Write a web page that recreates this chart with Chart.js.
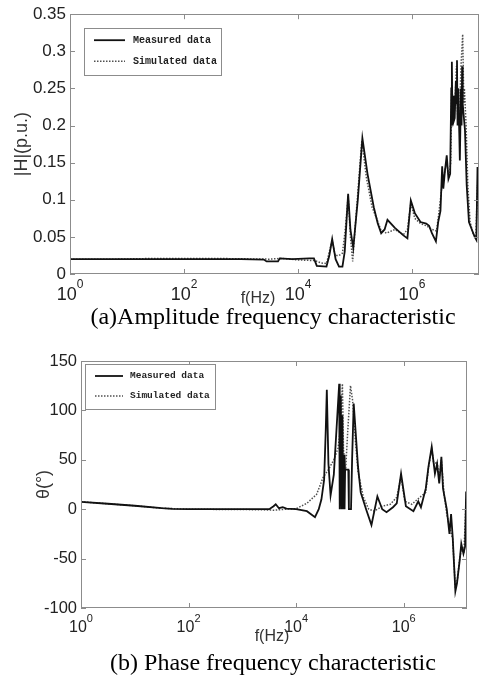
<!DOCTYPE html>
<html><head><meta charset="utf-8">
<script src="https://cdn.jsdelivr.net/npm/chart.js@4/dist/chart.umd.min.js"></script>
<style>
html,body{margin:0;padding:0;background:#fff;width:481px;height:680px;overflow:hidden;position:relative}
canvas{position:absolute;left:0}
#c1{top:0}
#c2{top:340px}
.cap{position:absolute;left:0;width:546px;text-align:center;font-family:"Liberation Serif","Times New Roman",serif;font-size:24px;line-height:26px;color:#000;white-space:nowrap}
</style></head>
<body>
<canvas id="c1" width="481" height="310"></canvas>
<div class="cap" style="top:303px">(a)Amplitude frequency characteristic</div>
<canvas id="c2" width="481" height="305"></canvas>
<div class="cap" style="top:649px">(b) Phase frequency characteristic</div>
<script>
// ---------- data (frequencies given as log10 of Hz) ----------
const seriesNames = ['Measured data', 'Simulated data'];
const xTitle = 'f(Hz)';
const xTickValues = [1, 1e2, 1e4, 1e6];
const xTickBase = '10';
const xTickExponents = ['0', '2', '4', '6'];
const ampTicks = [0, 0.05, 0.1, 0.15, 0.2, 0.25, 0.3, 0.35];
const ampTickLabels = ['0', '0.05', '0.1', '0.15', '0.2', '0.25', '0.3', '0.35'];
const phaseTicks = [-100, -50, 0, 50, 100, 150];
const phaseTickLabels = ['-100', '-50', '0', '50', '100', '150'];

const ampMeasLogHz = [0.00,1.00,2.00,3.00,3.40,3.45,3.65,3.68,3.90,4.20,4.28,4.33,4.50,4.55,4.60,4.66,4.72,4.78,4.82,4.88,4.92,4.97,5.05,5.13,5.22,5.33,5.40,5.46,5.52,5.57,5.70,5.85,5.92,5.98,6.05,6.15,6.25,6.30,6.35,6.42,6.46,6.50,6.53,6.55,6.58,6.61,6.64,6.67,6.69,6.70,6.71,6.72,6.73,6.75,6.77,6.78,6.79,6.80,6.81,6.83,6.84,6.86,6.87,6.88,6.89,6.90,6.93,6.96,7.00,7.05,7.10,7.13,7.15,7.18];
const ampMeas      = [0.020,0.020,0.020,0.020,0.0195,0.017,0.017,0.021,0.020,0.021,0.021,0.011,0.010,0.025,0.047,0.020,0.010,0.010,0.030,0.108,0.060,0.035,0.100,0.183,0.135,0.090,0.068,0.055,0.060,0.073,0.062,0.052,0.048,0.099,0.082,0.070,0.068,0.065,0.055,0.044,0.070,0.085,0.145,0.115,0.140,0.160,0.128,0.135,0.250,0.286,0.200,0.240,0.205,0.210,0.260,0.230,0.288,0.200,0.250,0.190,0.153,0.250,0.200,0.280,0.230,0.220,0.194,0.120,0.070,0.060,0.050,0.046,0.144,0.100];

const ampSimLogHz = [0.00,0.80,1.50,2.00,2.50,3.00,3.50,3.70,4.00,4.30,4.40,4.50,4.55,4.60,4.65,4.72,4.78,4.83,4.88,4.92,4.96,5.00,5.06,5.12,5.20,5.30,5.38,5.45,5.55,5.70,5.85,5.92,5.98,6.05,6.15,6.25,6.35,6.43,6.46,6.53,6.58,6.61,6.65,6.68,6.70,6.72,6.74,6.75,6.78,6.80,6.82,6.83,6.86,6.89,6.91,6.92,6.95,6.98,7.02,7.07,7.12,7.15,7.18];
const ampSim      = [0.020,0.020,0.021,0.021,0.021,0.0205,0.020,0.021,0.019,0.018,0.015,0.014,0.030,0.045,0.025,0.025,0.028,0.060,0.105,0.050,0.017,0.060,0.120,0.180,0.130,0.090,0.075,0.060,0.055,0.060,0.053,0.060,0.095,0.075,0.068,0.065,0.060,0.058,0.075,0.120,0.140,0.150,0.130,0.150,0.270,0.210,0.240,0.220,0.280,0.215,0.250,0.200,0.280,0.323,0.230,0.250,0.200,0.120,0.070,0.055,0.050,0.120,0.080];

const phMeasLogHz = [0.00,0.50,1.00,1.50,1.70,2.00,3.00,3.50,3.58,3.62,3.68,3.75,3.82,4.00,4.20,4.35,4.42,4.47,4.52,4.55,4.57,4.60,4.64,4.70,4.76,4.80,4.81,4.83,4.845,4.86,4.875,4.89,4.90,4.91,4.97,4.98,5.02,5.04,5.07,5.15,5.20,5.30,5.40,5.51,5.60,5.68,5.80,5.87,5.95,6.04,6.18,6.27,6.32,6.41,6.46,6.52,6.58,6.62,6.66,6.70,6.73,6.80,6.85,6.88,6.91,6.96,6.99,7.04,7.07,7.11,7.14,7.16,7.18];
const phMeas      = [7.5,5.5,3.5,1.0,0.3,0,0,0,3,5,1,2,0.5,0,-2,-8,0,10,30,80,121,46,14,35,90,127,0,115,0,95,0,55,0,40,40,0,0,50,107,43,17,0,-16,13,0,-3,2,6,36,3,-2,8,2,21,43,63,36,46,26,53,21,0,-25,-5,-28,-83,-75,-52,-35,-45,-38,18,-8];

const phSimLogHz = [0.00,0.50,1.00,1.50,2.00,3.30,3.60,3.80,4.00,4.20,4.38,4.50,4.60,4.70,4.78,4.82,4.86,4.88,4.92,4.96,5.01,5.05,5.10,5.15,5.25,5.35,5.45,5.60,5.75,5.87,5.95,6.02,6.15,6.30,6.41,6.46,6.52,6.56,6.62,6.66,6.70,6.75,6.80,6.86,6.91,6.96,7.00,7.04,7.08,7.12,7.16,7.18];
const phSim      = [7.5,5.5,3.5,1.0,0,-0.5,-1,0,0.5,6,15,32,40,50,62,80,127,60,40,80,125,110,70,38,12,0,-2,3,5,12,33,8,5,12,17,42,61,45,48,30,50,15,-5,-20,-30,-80,-70,-50,-38,-42,10,-15];

// ---------- helpers ----------
const toPts = (lx, ys) => lx.map((e, i) => ({x: Math.pow(10, e), y: ys[i]}));
const FAM = '"Liberation Sans", Arial, "DejaVu Sans", sans-serif';
const FRAME = '#8c8c8c';

const framePlugin = {
  id: 'frameTicks',
  afterDatasetsDraw(chart) {
    const {ctx, chartArea: a, scales} = chart;
    ctx.save();
    ctx.strokeStyle = FRAME; ctx.lineWidth = 1;
    ctx.strokeRect(Math.round(a.left) + 0.5, Math.round(a.top) + 0.5, Math.round(a.right - a.left) - 1, Math.round(a.bottom - a.top) - 1);
    ctx.beginPath();
    const L = 5;
    scales.x.ticks.forEach(t => {
      const px = Math.round(scales.x.getPixelForValue(t.value)) + 0.5;
      ctx.moveTo(px, a.bottom); ctx.lineTo(px, a.bottom - L);
      ctx.moveTo(px, a.top); ctx.lineTo(px, a.top + L);
    });
    scales.y.ticks.forEach(t => {
      const py = Math.round(scales.y.getPixelForValue(t.value)) + 0.5;
      ctx.moveTo(a.left, py); ctx.lineTo(a.left + L, py);
      ctx.moveTo(a.right, py); ctx.lineTo(a.right - L, py);
    });
    ctx.stroke();
    ctx.restore();
  }
};

// x tick labels as base with raised exponent, and x-axis title
const expTickPlugin = {
  id: 'expTicks',
  afterDraw(chart, args, o) {
    const {ctx, chartArea: a, scales} = chart;
    ctx.save();
    ctx.fillStyle = '#222';
    ctx.textBaseline = 'alphabetic';
    scales.x.ticks.forEach(t => {
      const i = xTickValues.indexOf(t.value);
      if (i < 0) return;
      const px = scales.x.getPixelForValue(t.value);
      ctx.font = o.baseSize + 'px ' + FAM;
      const wb = ctx.measureText(xTickBase).width;
      ctx.font = o.expSize + 'px ' + FAM;
      const we = ctx.measureText(xTickExponents[i]).width;
      const x0 = px - (wb + we) / 2 + o.shift;
      ctx.font = o.baseSize + 'px ' + FAM;
      ctx.textAlign = 'left';
      ctx.fillText(xTickBase, x0, a.bottom + o.baseDy);
      ctx.font = o.expSize + 'px ' + FAM;
      ctx.fillText(xTickExponents[i], x0 + wb, a.bottom + o.expDy);
    });
    ctx.font = o.titleSize + 'px ' + FAM;
    ctx.fillStyle = '#333';
    ctx.textAlign = 'center';
    ctx.textBaseline = 'middle';
    ctx.fillText(xTitle, o.titleX, a.bottom + o.titleDy);
    ctx.restore();
  }
};

const legendPlugin = {
  id: 'boxLegend',
  afterDatasetsDraw(chart, args, o) {
    const {ctx, chartArea: a} = chart;
    const x = a.left + o.dx, y = a.top + o.dy;
    ctx.save();
    ctx.fillStyle = '#fff';
    ctx.fillRect(x, y, o.w, o.h);
    ctx.strokeStyle = FRAME; ctx.lineWidth = 1;
    ctx.strokeRect(Math.round(x) + 0.5, Math.round(y) + 0.5, o.w, o.h);
    ctx.font = 'bold ' + o.fontSize + 'px "Liberation Mono", "DejaVu Sans Mono", monospace';
    ctx.textBaseline = 'middle';
    chart.data.datasets.forEach((ds, i) => {
      const ry = y + o.row0 + i * o.rowGap;
      ctx.beginPath();
      ctx.strokeStyle = ds.borderColor;
      ctx.lineWidth = ds.borderWidth;
      ctx.setLineDash(ds.borderDash || []);
      ctx.moveTo(x + o.l0, ry); ctx.lineTo(x + o.l1, ry);
      ctx.stroke();
      ctx.setLineDash([]);
      ctx.fillStyle = '#222';
      ctx.fillText(ds.label, x + o.tx, ry);
    });
    ctx.restore();
  }
};

function makeChart(id, cfg) {
  return new Chart(document.getElementById(id), {
    type: 'line',
    data: {
      datasets: [
        {label: seriesNames[0], data: cfg.meas, borderColor: '#111', borderWidth: 1.8, pointRadius: 0, tension: 0, fill: false},
        {label: seriesNames[1], data: cfg.sim, borderColor: '#505050', borderWidth: 1.5, borderDash: [1.5, 1.5], pointRadius: 0, tension: 0, fill: false}
      ]
    },
    options: {
      responsive: false, animation: false, devicePixelRatio: 1,
      layout: {padding: cfg.padding},
      plugins: {legend: {display: false}, tooltip: {enabled: false}, boxLegend: cfg.legend, expTicks: cfg.xlab},
      scales: {
        x: {
          type: 'logarithmic', min: 1, max: 1.5e7,
          afterBuildTicks: s => { s.ticks = xTickValues.map(v => ({value: v})); },
          afterFit: s => { s.height = cfg.xH; },
          grid: {display: false, drawTicks: false},
          border: {display: false},
          ticks: {display: false},
          title: {display: false}
        },
        y: {
          min: cfg.yTicks[0], max: cfg.yTicks[cfg.yTicks.length - 1],
          afterBuildTicks: s => { s.ticks = cfg.yTicks.map(v => ({value: v})); },
          afterFit: s => { s.width = cfg.yW; },
          grid: {display: false, drawTicks: false},
          border: {display: false},
          ticks: {autoSkip: false, padding: 4, color: '#222', font: {family: FAM, size: cfg.yTickSize},
                  callback: (v) => { const i = cfg.yTicks.indexOf(v); return i >= 0 ? cfg.yLabels[i] : ''; }},
          title: {display: true, text: cfg.yTitle, color: '#333', font: {family: FAM, size: 18, lineHeight: 1.2}, padding: {top: cfg.yTitlePad, bottom: 0}}
        }
      }
    },
    plugins: [framePlugin, legendPlugin, expTickPlugin]
  });
}

makeChart('c1', {
  meas: toPts(ampMeasLogHz, ampMeas), sim: toPts(ampSimLogHz, ampSim),
  padding: {left: 0, right: 2, top: 14, bottom: 0},
  xH: 36, yW: 70, yTitlePad: 11, yTickSize: 17,
  xlab: {baseSize: 18, expSize: 12, baseDy: 26, expDy: 14, shift: 0, titleSize: 16, titleX: 258, titleDy: 25},
  yTicks: ampTicks, yLabels: ampTickLabels, yTitle: '|H|(p.u.)',
  legend: {dx: 14, dy: 14, w: 137, h: 47, l0: 10, l1: 41, tx: 49, row0: 12, rowGap: 21, fontSize: 10}
});

makeChart('c2', {
  meas: toPts(phMeasLogHz, phMeas), sim: toPts(phSimLogHz, phSim),
  padding: {left: 0, right: 14, top: 21, bottom: 0},
  xH: 37, yW: 81, yTitlePad: 33, yTickSize: 16.5,
  xlab: {baseSize: 16, expSize: 11, baseDy: 24, expDy: 14, shift: 0, titleSize: 16, titleX: 272, titleDy: 29},
  yTicks: phaseTicks, yLabels: phaseTickLabels, yTitle: '\u03B8(\u00B0)',
  legend: {dx: 4, dy: 3, w: 130, h: 45, l0: 10, l1: 38, tx: 45, row0: 12, rowGap: 20, fontSize: 9.5}
});
</script>
</body></html>
